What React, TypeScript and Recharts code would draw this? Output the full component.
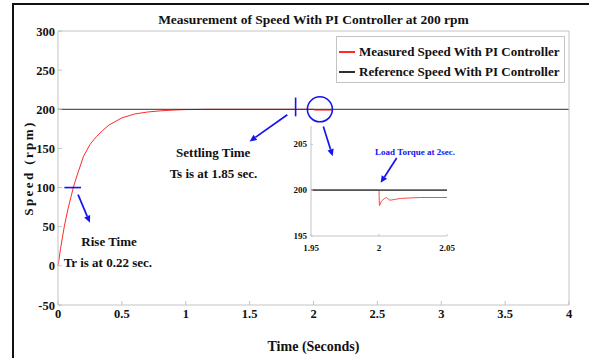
import { LineChart, Line, XAxis, YAxis, ReferenceLine, ReferenceDot, Legend, Label } from 'recharts';

const FONT = '"Liberation Serif", "Times New Roman", serif';
const BLUE = '#1414f0';
const BOX = '#c4c4c4';
const RED = '#ff2a2a';
const REF = '#303030';

// main plot: speed response
const measuredTime = [0, 0.02, 0.05, 0.08, 0.1, 0.12, 0.15, 0.2, 0.25, 0.3, 0.35, 0.4, 0.5, 0.6, 0.7, 0.8, 0.9, 1.0, 1.2, 1.5, 2.0, 2.01, 2.15];
const measuredSpeed = [0, 22, 51, 74, 87, 100, 116, 140, 155, 165, 173, 180, 189, 194, 196.5, 198, 199, 199.6, 200, 200, 200, 199, 199];
const referenceTime = [0, 4];
const referenceSpeed = [200, 200];
const timeTicks = [0, 0.5, 1, 1.5, 2, 2.5, 3, 3.5, 4];
const speedTicks = [-50, 0, 50, 100, 150, 200, 250, 300];

// inset: zoom around the load step at 2 s
const insetTime = [1.95, 2.0, 2.0003, 2.0018, 2.004, 2.0055, 2.008, 2.012, 2.016, 2.03, 2.05];
const insetSpeed = [200, 200, 198.3, 198.8, 199.1, 199.2, 198.9, 199.0, 199.1, 199.2, 199.2];
const insetRefTime = [1.95, 2.05];
const insetRefSpeed = [200, 200];
const insetTimeTicks = [1.95, 2, 2.05];
const insetSpeedTicks = [195, 200, 205];

const seriesNames = ['Measured Speed With PI Controller', 'Reference Speed With PI Controller'];

const zip = (xs: number[], ys: number[]) => xs.map((t, i) => ({ t, v: ys[i] }));
const measured = zip(measuredTime, measuredSpeed);
const reference = zip(referenceTime, referenceSpeed);
const insetMeasured = zip(insetTime, insetSpeed);
const insetReference = zip(insetRefTime, insetRefSpeed);

// annotations (data coords)
const arrows = [
  { from: { x: 0.157, y: 91 }, to: { x: 0.25, y: 55 } },
  { from: { x: 1.795, y: 193 }, to: { x: 1.5, y: 159 } },
  { from: { x: 2.077, y: 178 }, to: { x: 2.15, y: 140 } },
];
const marks = [
  [{ x: 0.05, y: 100 }, { x: 0.18, y: 100 }],
  [{ x: 1.86, y: 215 }, { x: 1.86, y: 191 }],
];
const notes = [
  { x: 0.4, y: 31, text: 'Rise Time' },
  { x: 0.39, y: 4, text: 'Tr is at 0.22 sec.' },
  { x: 1.215, y: 144.5, text: 'Settling Time' },
  { x: 1.217, y: 118, text: 'Ts is at 1.85 sec.' },
];

const arrowShape = (p: any) => {
  const { x1, y1, x2, y2 } = p;
  const a = Math.atan2(y2 - y1, x2 - x1);
  const L = 7, W = 3.2;
  const bx = x2 - L * Math.cos(a), by = y2 - L * Math.sin(a);
  const pts = `${x2},${y2} ${bx + W * Math.sin(a)},${by - W * Math.cos(a)} ${bx - W * Math.sin(a)},${by + W * Math.cos(a)}`;
  return (
    <g>
      <line x1={x1} y1={y1} x2={bx} y2={by} stroke={BLUE} strokeWidth={1.7} />
      <polygon points={pts} fill={BLUE} />
    </g>
  );
};

const txt = { fontFamily: FONT, fontWeight: 'bold' as const, fill: '#111' };

const BottomTick = ({ x, y, payload }: any) => (
  <g>
    <line x1={x} y1={y} x2={x} y2={y - 4} stroke={BOX} />
    <text x={x} y={y + 13} textAnchor="middle" fontSize={12.5} {...txt}>{payload.value}</text>
  </g>
);
const TopTick = ({ x, y }: any) => <line x1={x} y1={y} x2={x} y2={y + 4} stroke={BOX} />;
const LeftTick = ({ x, y, payload }: any) => (
  <g>
    <line x1={x} y1={y} x2={x + 4} y2={y} stroke={BOX} />
    <text x={x - 3} y={y + 4.5} textAnchor="end" fontSize={12.5} {...txt}>{payload.value}</text>
  </g>
);
const RightTick = ({ x, y }: any) => <line x1={x} y1={y} x2={x - 4} y2={y} stroke={BOX} />;

const InsetBottomTick = ({ x, y, payload }: any) => (
  <g>
    <line x1={x} y1={y} x2={x} y2={y - 2} stroke={BOX} />
    <text x={x} y={y + 15} textAnchor="middle" fontSize={9} {...txt}>{payload.value}</text>
  </g>
);
const InsetLeftTick = ({ x, y, payload }: any) => (
  <g>
    <line x1={x} y1={y} x2={x + 2} y2={y} stroke={BOX} />
    <text x={x - 4} y={y + 3} textAnchor="end" fontSize={9} {...txt}>{payload.value}</text>
  </g>
);

function LegendBox() {
  const colors = [RED, REF];
  return (
    <div style={{ width: 227, height: 45, border: `1px solid ${BOX}`, background: '#fff', boxSizing: 'content-box' }}>
      {seriesNames.map((n, i) => (
        <div key={n} style={{ display: 'flex', alignItems: 'center', height: 20, marginTop: i === 0 ? 5 : 0 }}>
          <span style={{ display: 'inline-block', width: 16, height: 1.2, background: colors[i], marginLeft: 2, marginRight: 4 }} />
          <span style={{ fontFamily: FONT, fontWeight: 'bold', fontSize: 13, color: '#111', whiteSpace: 'nowrap' }}>{n}</span>
        </div>
      ))}
    </div>
  );
}

export default function App() {
  return (
    <div style={{ position: 'absolute', left: 0, top: 0, width: 589, height: 358, background: '#fff', overflow: 'hidden' }}>
      <div style={{ position: 'absolute', left: 12, top: 3, width: 600, height: 400, borderLeft: '2px solid #111', borderTop: '2px solid #111' }} />
      <div style={{ position: 'absolute', left: 58, top: 12, width: 511, textAlign: 'center', fontFamily: FONT, fontWeight: 'bold', fontSize: 13.5, lineHeight: '15px', color: '#111' }}>
        Measurement of Speed With PI Controller at 200 rpm
      </div>
      <div style={{ position: 'absolute', left: 0, top: 0 }}>
        <LineChart width={589} height={358} margin={{ top: 30, right: 19, bottom: 52, left: 57 }}>
          <XAxis dataKey="t" type="number" domain={[0, 4]} ticks={timeTicks} interval={0} height={1}
            tickLine={false} tickSize={0} tickMargin={0} tick={<BottomTick />} axisLine={{ stroke: BOX }} allowDuplicatedCategory={false}>
            <Label content={({ viewBox }: any) => (
              <text x={viewBox.x + viewBox.width / 2} y={viewBox.y + 46} textAnchor="middle" fontSize={14} {...txt}>Time (Seconds)</text>
            )} />
          </XAxis>
          <XAxis xAxisId="top" orientation="top" dataKey="t" type="number" domain={[0, 4]} ticks={timeTicks} interval={0} height={1}
            tickLine={false} tickSize={0} tickMargin={0} tick={<TopTick />} axisLine={{ stroke: BOX }} allowDuplicatedCategory={false} />
          <YAxis type="number" domain={[-50, 300]} ticks={speedTicks} interval={0} width={1}
            tickLine={false} tickSize={0} tickMargin={0} tick={<LeftTick />} axisLine={{ stroke: BOX }}>
            <Label content={({ viewBox }: any) => {
              const cx = viewBox.x - 29, cy = viewBox.y + viewBox.height / 2;
              return <text x={cx} y={cy} transform={`rotate(-90 ${cx} ${cy})`} textAnchor="middle" dominantBaseline="central" fontSize={13} letterSpacing={2.4} {...txt}>Speed (rpm)</text>;
            }} />
          </YAxis>
          <YAxis yAxisId="right" orientation="right" type="number" domain={[-50, 300]} ticks={speedTicks} interval={0} width={1}
            tickLine={false} tickSize={0} tickMargin={0} tick={<RightTick />} axisLine={{ stroke: BOX }} />
          <Legend layout="vertical" align="center" verticalAlign="middle" content={() => <LegendBox />}
            wrapperStyle={{ position: 'absolute', left: 336, top: 36, width: 229, height: 47 }} />
          <Line data={measured} dataKey="v" stroke={RED} strokeWidth={1} dot={false} isAnimationActive={false} />
          <Line data={reference} dataKey="v" stroke={REF} strokeOpacity={0.8} strokeWidth={1.2} dot={false} isAnimationActive={false} />
          {marks.map((s, i) => (
            <ReferenceLine key={`m${i}`} segment={s} stroke={BLUE} strokeWidth={1.6} ifOverflow="visible" />
          ))}
          {arrows.map((a, i) => (
            <ReferenceLine key={`a${i}`} segment={[a.from, a.to]} shape={arrowShape} ifOverflow="visible" />
          ))}
          <ReferenceDot x={2.05} y={200} r={12.5} fill="none" stroke={BLUE} strokeWidth={1.6} ifOverflow="visible" />
          {notes.map((n) => (
            <ReferenceDot key={n.text} x={n.x} y={n.y} r={1} ifOverflow="visible"
              shape={(p: any) => (
                <text x={p.cx} y={p.cy} textAnchor="middle" dominantBaseline="central" fontSize={13} {...txt}>{n.text}</text>
              )} />
          ))}
        </LineChart>
      </div>
      <div style={{ position: 'absolute', left: 280, top: 115 }}>
        <LineChart width={180} height={145} margin={{ top: 11, right: 13, bottom: 23, left: 30 }}>
          <XAxis dataKey="t" type="number" domain={[1.95, 2.05]} ticks={insetTimeTicks} interval={0} height={1}
            tickLine={false} tickSize={0} tickMargin={0} tick={<InsetBottomTick />} axisLine={{ stroke: BOX }} allowDuplicatedCategory={false} />
          <YAxis type="number" domain={[195, 207]} ticks={insetSpeedTicks} interval={0} width={1}
            tickLine={false} tickSize={0} tickMargin={0} tick={<InsetLeftTick />} axisLine={{ stroke: BOX }} />
          <Line data={insetMeasured} dataKey="v" stroke="#ff4a4a" strokeWidth={1} dot={false} isAnimationActive={false} />
          <Line data={insetReference} dataKey="v" stroke="#555" strokeWidth={1.6} dot={false} isAnimationActive={false} />
          <ReferenceLine segment={[{ x: 2.013, y: 203.5 }, { x: 2.0012, y: 200.8 }]} shape={arrowShape} ifOverflow="visible" />
          <ReferenceDot x={2.0265} y={204.2} r={1} ifOverflow="visible"
            shape={(p: any) => (
              <text x={p.cx} y={p.cy} textAnchor="middle" dominantBaseline="central" fontSize={9} fontFamily={FONT} fontWeight="bold" fill={BLUE}>Load Torque at 2sec.</text>
            )} />
        </LineChart>
      </div>
    </div>
  );
}
